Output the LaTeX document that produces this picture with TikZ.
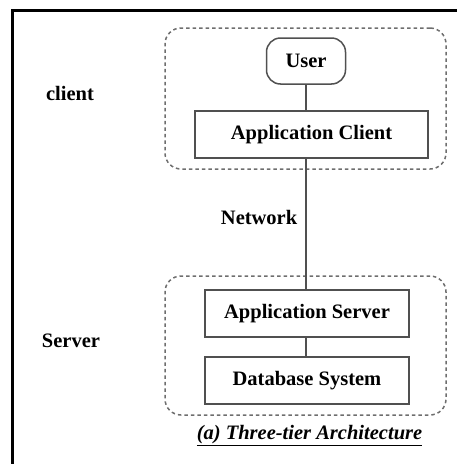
\documentclass[tikz,border=0pt]{standalone}
\usepackage{fontspec}
\setmainfont{Liberation Serif}
\definecolor{boxline}{HTML}{505050}
\definecolor{dashline}{HTML}{6E6E6E}
\tikzset{
  txt/.style={font=\fontsize{20.5}{24}\selectfont\bfseries, text=black, inner sep=0pt},
  solidbox/.style={txt, draw=boxline, line width=1.5pt, minimum height=47pt, outer sep=0pt},
  userbox/.style={solidbox, rounded corners=14pt, minimum width=79pt, minimum height=46pt},
  groupbox/.style={draw=dashline, line width=1.5pt, dash pattern=on 3.5pt off 3pt, rounded corners=16pt, outer sep=0pt, inner sep=0pt},
  conn/.style={draw=boxline, line width=1.5pt},
  frameline/.style={draw=black, line width=3pt},
}
\begin{document}
\begin{tikzpicture}[x=1pt,y=-1pt]
\useasboundingbox (0,0) rectangle (457,464);
% frame
\coordinate (fbl) at (12.5,464);
\coordinate (ftl) at (12.5,10);
\coordinate (ftr) at (457,10);
\draw[frameline] (fbl) -- (ftl) -- (ftr);
% groups
\node[groupbox, minimum width=281pt, minimum height=141pt] (clientgrp) at (305.5,98.5) {};
\node[groupbox, minimum width=281pt, minimum height=139pt] (servergrp) at (305.5,345.5) {};
% nodes
\node[userbox] (user) at (306,61) {User};
\node[solidbox, minimum width=233pt] (appclient) at (311.5,134.5) {Application Client};
\node[solidbox, minimum width=204pt] (appserver) at (307,313.5) {Application Server};
\node[solidbox, minimum width=204pt] (db) at (307,380.5) {Database System};
% labels
\node[txt] (clientlbl) at (70,93) {client};
\node[txt] (serverlbl) at (71,341) {Server};
\node[txt, font=\fontsize{20.5}{24}\selectfont\bfseries\itshape] (caption) at (309.5,436) {\underline{(a) Three-tier Architecture}};
% connectors
\draw[conn] (user.south) -- (user.south |- appclient.north);
\draw[conn] (user.south |- appclient.south) -- node[txt, left=8pt, pos=0.45] (netlbl) {Network} (user.south |- appserver.north);
\draw[conn] (user.south |- appserver.south) -- (user.south |- db.north);
\end{tikzpicture}
\end{document}
